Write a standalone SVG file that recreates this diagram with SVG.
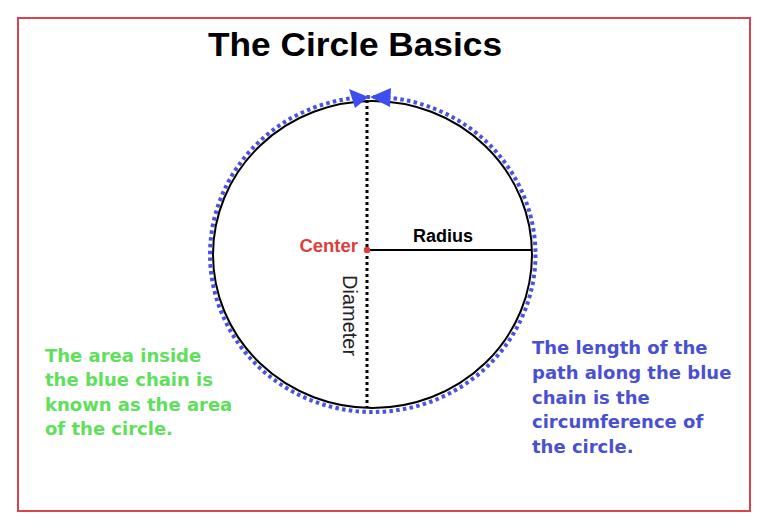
<svg xmlns="http://www.w3.org/2000/svg" width="768" height="532" viewBox="0 0 768 532">
<style>
.sans{font-family:"Liberation Sans",Arial,sans-serif}
.note{font-family:"DejaVu Sans",Verdana,sans-serif;font-weight:bold;font-size:18px}
</style>
<rect width="768" height="532" fill="#ffffff"/>
<rect id="frame" x="18" y="18" width="732" height="493" fill="none" stroke="#d9434d" stroke-width="2"/>
<text id="title" class="sans" x="208" y="56" font-size="34" font-weight="bold" fill="#000" textLength="294" lengthAdjust="spacingAndGlyphs">The Circle Basics</text>
<g id="circle">
<ellipse cx="372.5" cy="254.5" rx="159.5" ry="153.5" fill="none" stroke="#000" stroke-width="2"/>
</g>
<g id="chain">
<ellipse cx="372.75" cy="254.5" rx="162.75" ry="157.5" fill="none" stroke="#4b52de" stroke-width="4" stroke-dasharray="3.5 3.3"/>
<polygon points="349,89 355,108 368.5,97" fill="#3d4ef0"/>
<polygon points="391,88 390,107 370,97" fill="#3d4ef0"/>
</g>
<g id="connectors">
<line x1="367" y1="100" x2="367" y2="408" stroke="#000" stroke-width="3" stroke-dasharray="3 3"/>
<line x1="367" y1="250" x2="532" y2="250" stroke="#000" stroke-width="2"/>
</g>
<g id="center">
<circle cx="367" cy="250" r="3.2" fill="#e03c3c"/>
<text class="sans" x="358" y="252" text-anchor="end" font-size="18.5" font-weight="bold" fill="#e03c3c">Center</text>
</g>
<g id="radius">
<text class="sans" x="413" y="242" font-size="18" font-weight="bold" fill="#000">Radius</text>
</g>
<g id="diameter">
<text class="sans" transform="translate(343,275) rotate(90)" font-size="20" fill="#222">Diameter</text>
</g>
<g id="area-note" class="note" fill="#5ee05a">
<text x="45" y="362">The area inside</text>
<text x="45" y="386">the blue chain is</text>
<text x="45" y="410.5">known as the area</text>
<text x="45" y="435">of the circle.</text>
</g>
<g id="circumference-note" class="note" fill="#4a50d2">
<text x="532" y="354">The length of the</text>
<text x="532" y="379">path along the blue</text>
<text x="532" y="403.5">chain is the</text>
<text x="532" y="428">circumference of</text>
<text x="532" y="453">the circle.</text>
</g>
</svg>
